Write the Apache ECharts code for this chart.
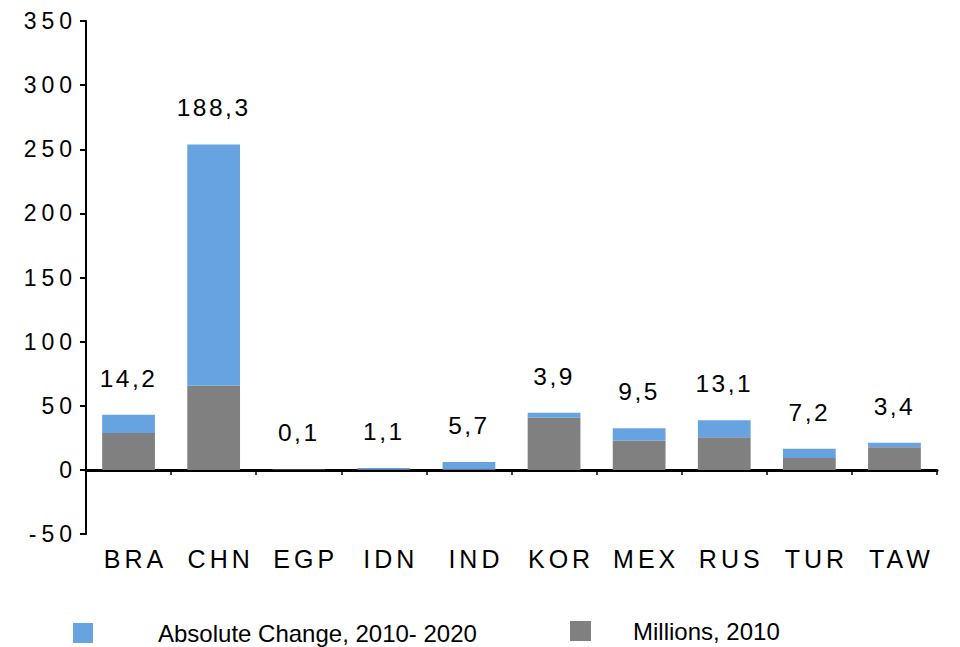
<!DOCTYPE html>
<html>
<head>
<meta charset="utf-8">
<script src="https://cdn.jsdelivr.net/npm/echarts@6/dist/echarts.min.js"></script>
<style>
html,body{margin:0;padding:0;background:#fff;}
#chart{width:960px;height:647px;}
#chart text[style*="23px"]{letter-spacing:5px;}
#chart text[style*="25px"]{letter-spacing:4px;}
#chart text[style*="24.5px"]{letter-spacing:2.5px;}
</style>
</head>
<body>
<div id="chart"></div>
<script>
const categories = ['BRA','CHN','EGP','IDN','IND','KOR','MEX','RUS','TUR','TAW'];
const millions2010 = [28.7, 65.5, 0.2, 0.3, 0.5, 40.6, 23.0, 25.5, 9.3, 17.7];
const absoluteChange = [14.2, 188.3, 0.1, 1.1, 5.7, 3.9, 9.5, 13.1, 7.2, 3.4];
const yMin = -50, yMax = 350, yStep = 50;
const nameChange = 'Absolute Change, 2010- 2020';
const nameMillions = 'Millions, 2010';

const FONT = '"Liberation Sans", Arial, sans-serif';
const chart = echarts.init(document.getElementById('chart'), null, {renderer: 'svg'});
chart.setOption({
  animation: false,
  grid: {left: 86, right: 23, top: 21, bottom: 113, containLabel: false},
  legend: [
    {data: [nameChange], left: 73, top: 621, padding: 0, itemWidth: 20, itemHeight: 20, icon: 'rect',
     textStyle: {fontSize: 24, color: '#000', fontFamily: FONT, padding: [0, 0, 0, 60]}},
    {data: [nameMillions], left: 570, top: 619, padding: 0, itemWidth: 21, itemHeight: 20, icon: 'rect',
     textStyle: {fontSize: 24, color: '#000', fontFamily: FONT, padding: [0, 0, 0, 37]}}
  ],
  xAxis: {
    type: 'category',
    data: categories,
    axisLine: {onZero: true, lineStyle: {color: '#000', width: 3}},
    axisTick: {show: true, length: 5, lineStyle: {color: '#000', width: 1.5}},
    axisLabel: {margin: 12, fontSize: 25, color: '#000', fontFamily: FONT, padding: [0, 0, 0, 14]}
  },
  yAxis: {
    type: 'value',
    min: yMin, max: yMax, interval: yStep,
    axisLine: {show: true, lineStyle: {color: '#000', width: 2}},
    axisTick: {show: true, length: 6, lineStyle: {color: '#000', width: 2}},
    splitLine: {show: false},
    axisLabel: {margin: 9, fontSize: 23, color: '#000', fontFamily: FONT}
  },
  series: [
    {name: nameMillions, type: 'bar', stack: 'total', data: millions2010,
     barCategoryGap: '38%', itemStyle: {color: '#808080'}},
    {name: nameChange, type: 'bar', stack: 'total', data: absoluteChange,
     barCategoryGap: '38%', itemStyle: {color: '#67A3E0'},
     label: {show: true, position: 'top', distance: 24, fontSize: 24.5, color: '#000', fontFamily: FONT,
       formatter: p => String(p.value).replace('.', ',')}}
  ]
});
</script>
</body>
</html>
